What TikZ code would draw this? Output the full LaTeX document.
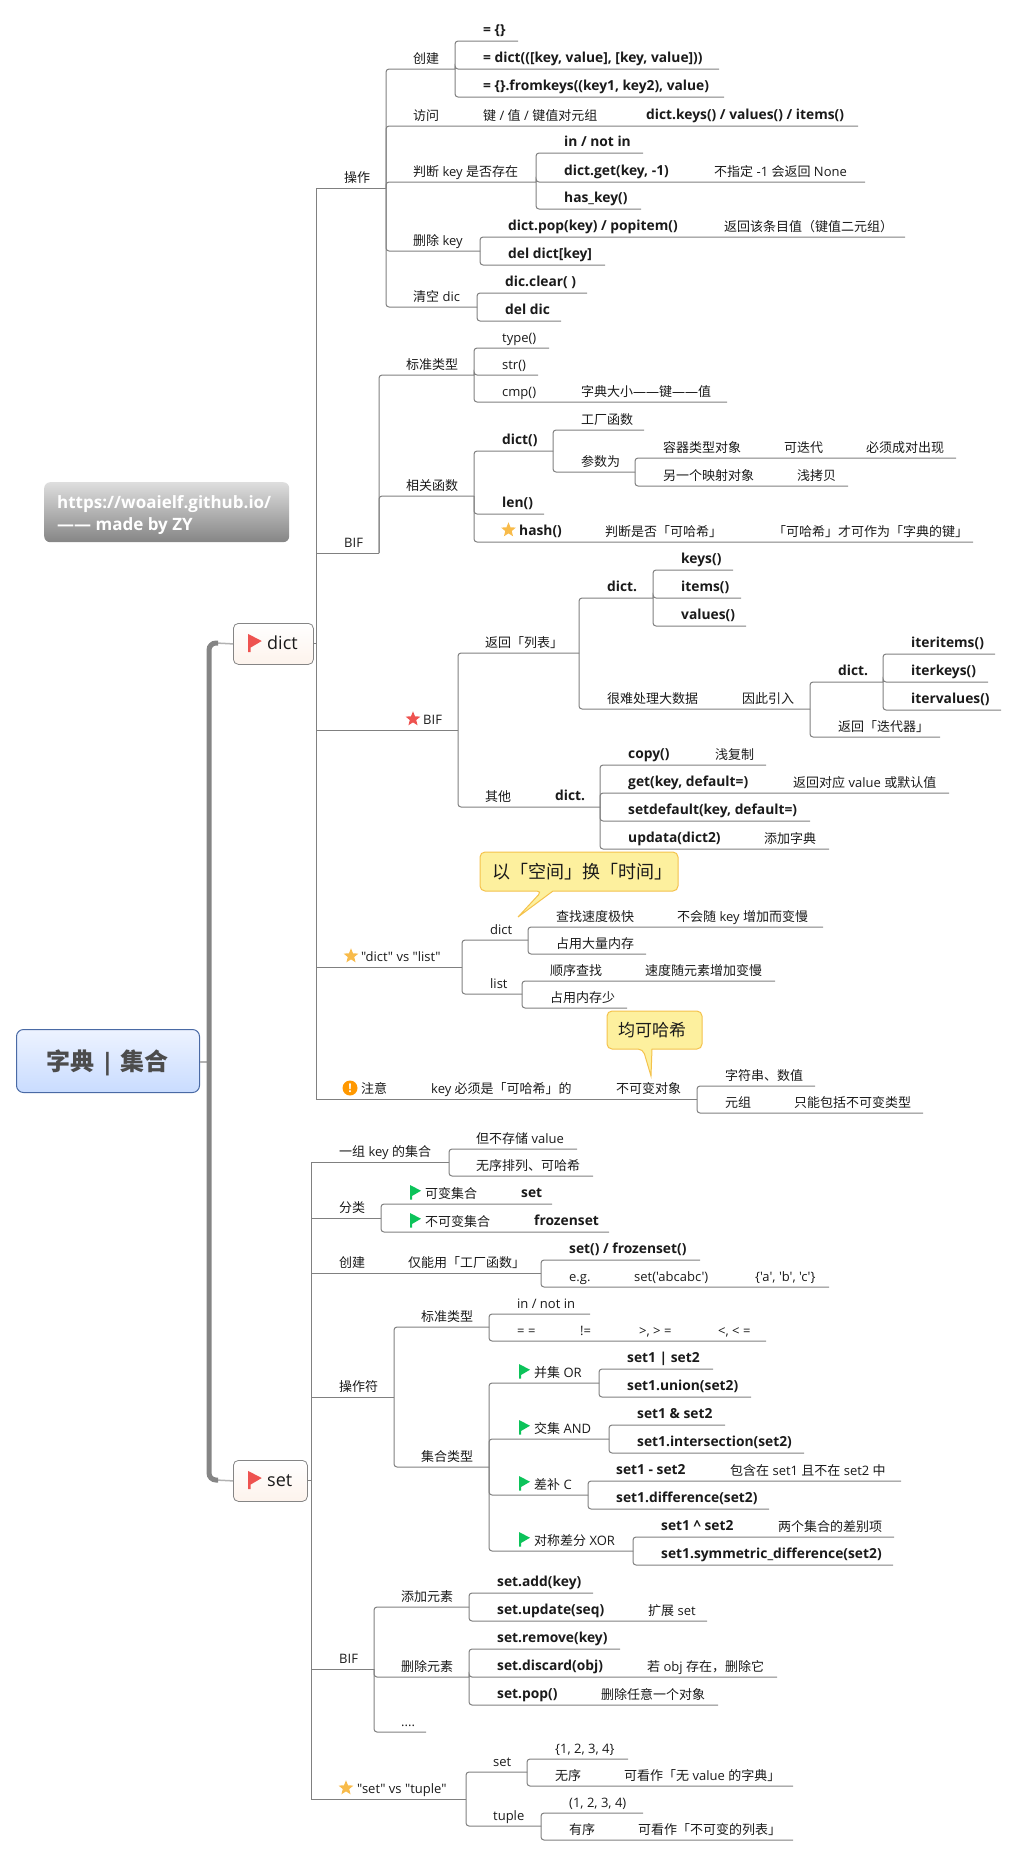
\documentclass[tikz,border=0pt]{standalone}
\usepackage{fontspec}
\newfontfamily\latinfont{Open Sans}
\newfontfamily\cjk{Noto Sans CJK SC}
% switch to the CJK face on Chinese characters
\newcount\cjkcode
\newXeTeXintercharclass\cjkclass
\cjkcode="4E00
\loop \XeTeXcharclass\cjkcode=\cjkclass \ifnum\cjkcode<"9FFF \advance\cjkcode by 1 \repeat
\cjkcode="3000
\loop \XeTeXcharclass\cjkcode=\cjkclass \ifnum\cjkcode<"303F \advance\cjkcode by 1 \repeat
\cjkcode="FF00
\loop \XeTeXcharclass\cjkcode=\cjkclass \ifnum\cjkcode<"FF60 \advance\cjkcode by 1 \repeat
\XeTeXcharclass"2014=0
\XeTeXinterchartoks 0 \cjkclass={\begingroup\cjk}
\XeTeXinterchartoks 4095 \cjkclass={\begingroup\cjk}
\XeTeXinterchartoks \cjkclass 0={\endgroup}
\XeTeXinterchartoks \cjkclass 4095={\endgroup}
\XeTeXinterchartokenstate=1
\usepackage{tikz}
\usetikzlibrary{
  shapes.geometric, calc
}
\definecolor{linegray}{HTML}{808080}
\definecolor{trunkgray}{HTML}{858585}
\definecolor{inkgray}{HTML}{1A1A1A}
\definecolor{flagred}{HTML}{EE5350}
\definecolor{flaggreen}{HTML}{0CC35A}
\definecolor{stargold}{HTML}{F8BB4A}
\definecolor{warnorange}{HTML}{FF9800}
\definecolor{notefill}{HTML}{FDF09E}
\definecolor{noteedge}{HTML}{F4C24C}
\definecolor{roottop}{HTML}{EDF3FF}
\definecolor{rootbot}{HTML}{C9DCFF}
\definecolor{rootedge}{HTML}{4A6AA5}
\definecolor{boxbot}{HTML}{FDF3EC}
\tikzset{
  branch/.style={draw=linegray, line width=1pt, rounded corners=3pt},
  trunkbranch/.style={draw=linegray, line width=1pt, sharp corners},
  plainlbl/.style={anchor=base west, inner sep=0pt, yshift=6pt, text=inkgray,
    font=\fontsize{13}{15}\selectfont\latinfont},
  codelbl/.style={plainlbl, yshift=1pt, font=\fontsize{13.8}{15}\selectfont\latinfont\bfseries},
  mainbox/.style={draw=trunkgray, line width=0.8pt, rounded corners=5pt, inner sep=0pt,
    top color=white, bottom color=boxbot},
  mainlbl/.style={anchor=base west, inner sep=0pt, text=inkgray,
    font=\fontsize{18}{20}\selectfont\latinfont},
  callout/.style={draw=noteedge, fill=notefill, line width=1pt},
  calloutlbl/.style={anchor=west, inner sep=0pt, text=inkgray, font=\fontsize{18}{20}\selectfont\latinfont},
  staricon/.style={star, star points=5, star point ratio=2.3, inner sep=0pt, minimum size=15.5pt},
  pics/flagmark/.style={code={
    \fill[#1] (0,0) -- (0,-14.5) -- (11,-8.8) -- (2,-3.5) -- (2,0) -- cycle;
  }}
}

\begin{document}
\begin{tikzpicture}[x=1pt,y=-1pt]
  \useasboundingbox (0,0) rectangle (1014,1856);

  % watermark
  \node[minimum width=245pt, minimum height=60pt, inner sep=0pt, rounded corners=6pt,
    top color=black!13, bottom color=trunkgray, anchor=north west] (mark) at (44,482) {};
  \node[anchor=west, align=left, inner sep=0pt, text=white,
    font=\fontsize{17}{21.5}\selectfont\latinfont\bfseries] (marktxt) at (57,515)
    {https://woaielf.github.io/\\—— made by ZY};

  % central topics
  \node[draw=rootedge, line width=1pt, rounded corners=7pt, top color=roottop,
    bottom color=rootbot, minimum width=183pt, minimum height=63pt, inner sep=0pt,
    anchor=north west] (root) at (16,1029) {};
  \node[text=black!70, inner sep=0pt, font=\fontsize{24}{26}\selectfont\latinfont\bfseries]
    (rootlbl) at (107.5,1063) {字典 | 集合};
  \node[mainbox, minimum width=80pt, minimum height=41pt, anchor=north west] (dictbox) at (233,623) {};
  \node[mainbox, minimum width=74pt, minimum height=41pt, anchor=north west] (setbox) at (233,1460) {};
  \node[mainlbl] (dictlbl) at (267,649) {dict};
  \node[mainlbl] (setlbl) at (267,1486) {set};
  \pic[scale=1.25] at (248,652) {flagmark=flagred};
  \pic[scale=1.25] at (248,1489) {flagmark=flagred};

  \coordinate (trunktop) at (209,643);
  \coordinate (trunkbot) at (209,1480);
  \coordinate (dictjoin) at (316,643);
  \coordinate (setjoin) at (311,1480);
  \draw[line width=1.5pt, black!30] (root.east |- 0,1062) -- (209,1062);
  \draw[line width=1.5pt, black!30] (216,643) -- (dictbox.west);
  \draw[line width=1.5pt, black!30] (216,1480) -- (setbox.west);
  \draw[line width=5pt, trunkgray, rounded corners=7pt] (218,643) -- (trunktop) -- (trunkbot) -- (218,1480);
  \draw[draw=linegray, line width=1pt] (dictbox.east |- dictjoin) -- (dictjoin);
  \draw[draw=linegray, line width=1pt] (setbox.east |- setjoin) -- (setjoin);

  % first level, square elbows
  \foreach \up/\me/\xend/\yline/\xtxt/\lbl in {
    dictjoin/ops/386/188/344/操作,
    dictjoin/bif/379/553/344/BIF,
    dictjoin/bifs/458/730/423/BIF,
    dictjoin/vsa/462/967/361/{"dict" vs "list"},
    dictjoin/warn/697/1099/361/注意,
    setjoin/sone/449/1162/339/一组 key 的集合,
    setjoin/skind/381/1218/339/分类,
    setjoin/snew/541/1273/339/创建,
    setjoin/sop/394/1397/339/操作符,
    setjoin/sbif/374/1669/339/BIF,
    setjoin/vsb/466/1799/357/{"set" vs "tuple"}
  } {
    \coordinate (\me) at (\xend,\yline);
    \draw[trunkbranch] (\up) |- (\me);
    \node[plainlbl] (t\me) at (\xtxt,\yline) {\lbl};
  }

  % all other topics, text above its line
  \foreach \up/\me/\xend/\yline/\xtxt/\kind/\lbl in {
    ops/opnew/455/69/413/plainlbl/创建,
    opnew/ona/518/41/483/codelbl/= \{\},
    opnew/onb/719/69/483/codelbl/{= dict(([key, value], [key, value]))},
    opnew/onc/724/97/483/codelbl/{= \{\}.fromkeys((key1, key2), value)},
    ops/opget/858/126/413/plainlbl/访问,
    ops/ophas/536/182/413/plainlbl/判断 key 是否存在,
    ophas/oha/643/153/564/codelbl/{in / not in},
    ophas/ohb/865/182/564/codelbl/{dict.get(key, -1)},
    ophas/ohc/641/209/564/codelbl/has\_key(),
    ops/opdel/480/251/413/plainlbl/删除 key,
    opdel/oda/905/237/508/codelbl/{dict.pop(key) / popitem()},
    opdel/odb/605/265/508/codelbl/del dict[key],
    ops/opclr/477/307/413/plainlbl/清空 dic,
    opclr/oca/587/293/505/codelbl/dic.clear( ),
    opclr/ocb/561/321/505/codelbl/del dic,
    bif/bstd/474/375/406/plainlbl/标准类型,
    bstd/bsa/549/348/502/plainlbl/type(),
    bstd/bsb/538/375/502/plainlbl/str(),
    bstd/bsc/727/402/502/plainlbl/cmp(),
    bif/brel/474/496/406/plainlbl/相关函数,
    brel/brd/553/451/502/codelbl/dict(),
    brd/brda/644/430/581/plainlbl/工厂函数,
    brd/brdb/635/472/581/plainlbl/参数为,
    brdb/brdc/956/458/663/plainlbl/容器类型对象,
    brdb/brde/848/486/663/plainlbl/另一个映射对象,
    brel/brl/544/514/502/codelbl/len(),
    brel/brh/973/542/519/codelbl/hash(),
    bifs/bsl/579/653/485/plainlbl/返回「列表」,
    bsl/bsld/653/598/607/codelbl/dict.,
    bsld/bska/733/570/681/codelbl/keys(),
    bsld/bskb/741/598/681/codelbl/items(),
    bsld/bskc/746/626/681/codelbl/values(),
    bsl/bslh/810/709/607/plainlbl/很难处理大数据,
    bslh/bsle/883/682/838/codelbl/dict.,
    bsle/bsia/995/654/911/codelbl/iteritems(),
    bsle/bsib/988/682/911/codelbl/iterkeys(),
    bsle/bsic/1001/710/911/codelbl/itervalues(),
    bslh/bslr/940/737/838/plainlbl/返回「迭代器」,
    bifs/bso/600/807/485/plainlbl/其他,
    bso/boa/766/765/628/codelbl/copy(),
    bso/bob/949/793/628/codelbl/{get(key, default=)},
    bso/boc/810/821/628/codelbl/{setdefault(key, default=)},
    bso/bod/829/849/628/codelbl/updata(dict2),
    vsa/vad/528/940/490/plainlbl/dict,
    vad/vada/823/927/556/plainlbl/查找速度极快,
    vad/vadb/646/954/556/plainlbl/占用大量内存,
    vsa/val/522/994/490/plainlbl/list,
    val/vala/775/981/550/plainlbl/顺序查找,
    val/valb/627/1008/550/plainlbl/占用内存少,
    warn/wa/815/1086/725/plainlbl/字符串、数值,
    warn/wb/923/1113/725/plainlbl/元组,
    sone/soa/577/1149/476/plainlbl/但不存储 value,
    sone/sob/593/1176/476/plainlbl/无序排列、可哈希,
    skind/ska/552/1204/425/plainlbl/可变集合,
    skind/skb/609/1232/425/plainlbl/不可变集合,
    snew/sna/700/1260/569/codelbl/{set() / frozenset()},
    snew/snb/829/1287/569/plainlbl/e.g.,
    sop/sstd/489/1327/421/plainlbl/标准类型,
    sstd/ssa/590/1314/517/plainlbl/{in / not in},
    sstd/ssb/766/1341/517/plainlbl/= =,
    sop/styp/489/1467/421/plainlbl/集合类型,
    styp/tor/599/1383/534/plainlbl/并集 OR,
    tor/tora/713/1369/627/codelbl/set1 | set2,
    tor/torb/751/1397/627/codelbl/set1.union(set2),
    styp/tand/609/1439/534/plainlbl/交集 AND,
    tand/tanda/725/1425/637/codelbl/set1 \& set2,
    tand/tandb/804/1453/637/codelbl/set1.intersection(set2),
    styp/tdif/588/1495/534/plainlbl/差补 C,
    tdif/tdifa/901/1481/616/codelbl/set1 - set2,
    tdif/tdifb/769/1509/616/codelbl/set1.difference(set2),
    styp/txor/633/1551/534/plainlbl/对称差分 XOR,
    txor/txora/894/1537/661/codelbl/set1 \textasciicircum{} set2,
    txor/txorb/893/1565/661/codelbl/set1.symmetric\_difference(set2),
    sbif/sadd/469/1607/401/plainlbl/添加元素,
    sadd/saa/593/1593/497/codelbl/set.add(key),
    sadd/sab/707/1621/497/codelbl/set.update(seq),
    sbif/srem/469/1677/401/plainlbl/删除元素,
    srem/sra/620/1649/497/codelbl/set.remove(key),
    srem/srb/777/1677/497/codelbl/set.discard(obj),
    srem/src/718/1705/497/codelbl/set.pop(),
    sbif/sdot/426/1732/401/plainlbl/{....},
    vsb/vbs/527/1772/493/plainlbl/set,
    vbs/vbsa/628/1759/555/plainlbl/{\{1, 2, 3, 4\}},
    vbs/vbsb/793/1786/555/plainlbl/无序,
    vsb/vbt/541/1826/493/plainlbl/tuple,
    vbt/vbta/643/1813/569/plainlbl/{(1, 2, 3, 4)},
    vbt/vbtb/793/1840/569/plainlbl/有序
  } {
    \coordinate (\me) at (\xend,\yline);
    \draw[branch] (\up) |- (\me);
    \node[\kind] (t\me) at (\xtxt,\yline) {\lbl};
  }

  % more text on a line that is already drawn
  \foreach \me/\xtxt/\kind/\lbl in {
    opget/483/plainlbl/{键 / 值 / 键值对元组},
    opget/646/codelbl/{dict.keys() / values() / items()},
    ohb/714/plainlbl/不指定 -1 会返回 None,
    oda/724/plainlbl/返回该条目值（键值二元组）,
    bsc/581/plainlbl/字典大小——键——值,
    brdc/784/plainlbl/可迭代,
    brdc/866/plainlbl/必须成对出现,
    brde/797/plainlbl/浅拷贝,
    brh/605/plainlbl/判断是否「可哈希」,
    brh/773/plainlbl/「可哈希」才可作为「字典的键」,
    bslh/742/plainlbl/因此引入,
    boa/715/plainlbl/浅复制,
    bob/793/plainlbl/返回对应 value 或默认值,
    bod/764/plainlbl/添加字典,
    bso/555/codelbl/dict.,
    vada/677/plainlbl/不会随 key 增加而变慢,
    vala/645/plainlbl/速度随元素增加变慢,
    warn/431/plainlbl/key 必须是「可哈希」的,
    warn/616/plainlbl/不可变对象,
    wb/794/plainlbl/只能包括不可变类型,
    ska/521/codelbl/set,
    skb/534/codelbl/frozenset,
    snew/408/plainlbl/仅能用「工厂函数」,
    snb/634/plainlbl/{set('abcabc')},
    snb/755/plainlbl/{\{'a', 'b', 'c'\}},
    ssb/580/plainlbl/!=,
    ssb/639/plainlbl/{>, > =},
    ssb/718/plainlbl/{<, < =},
    tdifa/730/plainlbl/包含在 set1 且不在 set2 中,
    txora/778/plainlbl/两个集合的差别项,
    sab/648/plainlbl/扩展 set,
    srb/647/plainlbl/若 obj 存在，删除它,
    src/601/plainlbl/删除任意一个对象,
    vbsb/624/plainlbl/可看作「无 value 的字典」,
    vbtb/638/plainlbl/可看作「不可变的列表」
  } {
    \node[\kind] (x\me\xtxt) at (\xtxt,0 |- \me) {\lbl};
  }

  % icons
  \foreach \fx/\fy in {410/1204, 410/1232, 519/1383, 519/1439, 519/1495, 519/1551} {
    \pic at (\fx,\fy-4.5) {flagmark=flaggreen};
  }
  \node[staricon, fill=stargold] (stara) at (508.5,530) {};
  \node[staricon, fill=stargold] (starb) at (351,956) {};
  \node[staricon, fill=stargold] (starc) at (346,1788) {};
  \node[staricon, fill=flagred] (stard) at (413,719) {};
  \node[circle, fill=warnorange, minimum size=15pt, inner sep=0pt, text=white,
    font=\fontsize{12}{12}\selectfont\latinfont\bfseries] (warnicon) at (350,1088) {!};

  % callouts
  \draw[callout, rounded corners=5pt] (542,891) [sharp corners] -- (518,917) -- (553,891)
    [rounded corners=5pt] -- (678,891) -- (678,852) -- (480,852) -- (480,891) -- cycle;
  \node[calloutlbl] (notea) at (492,872) {以「空间」换「时间」};
  \draw[callout, rounded corners=5pt] (643,1049) [sharp corners] -- (651,1076) -- (652,1049)
    [rounded corners=5pt] -- (702,1049) -- (702,1011) -- (607,1011) -- (607,1049) -- cycle;
  \node[calloutlbl, font=\fontsize{17}{20}\selectfont\latinfont] (noteb) at (618,1030) {均可哈希};
\end{tikzpicture}
\end{document}
